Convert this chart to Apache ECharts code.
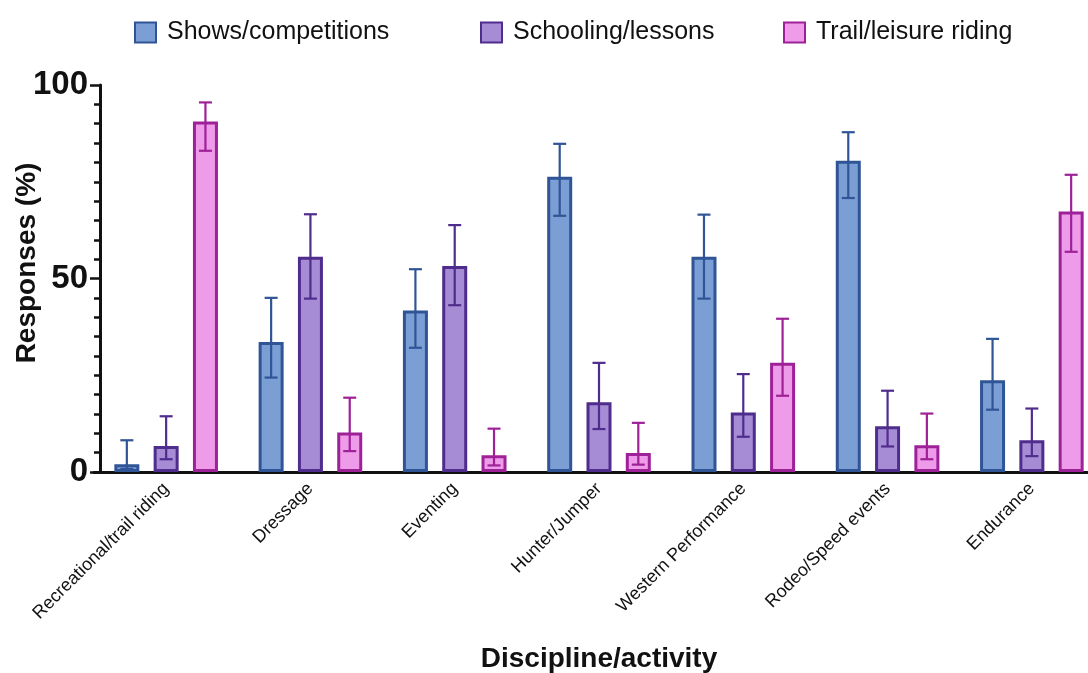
<!DOCTYPE html>
<html>
<head>
<meta charset="utf-8">
<script src="https://cdn.jsdelivr.net/npm/echarts@6/dist/echarts.min.js"></script>
<style>
  html, body { margin: 0; padding: 0; background: #ffffff; }
  #chart { width: 1088px; height: 673px; }
</style>
</head>
<body>
<div id="chart"></div>
<script>
// Disciplines on the x axis
const categories = [
  'Recreational/trail riding', 'Dressage', 'Eventing', 'Hunter/Jumper',
  'Western Performance', 'Rodeo/Speed events', 'Endurance'
];
const seriesNames = ['Shows/competitions', 'Schooling/lessons', 'Trail/leisure riding'];

// Percent of responses per discipline
const showsValues     = [2, 33.6, 41.7, 76.3, 55.6, 80.4, 23.7];
const schoolingValues = [6.7, 55.6, 53.2, 18.0, 15.4, 11.8, 8.2];
const trailValues     = [90.6, 10.2, 4.3, 4.9, 28.2, 6.9, 67.3];

// Confidence interval bounds (lower, upper)
const showsLow      = [0.8, 24.4, 32.1, 66.2, 44.8, 70.8, 16.1];
const showsHigh     = [8.2, 45.0, 52.4, 84.8, 66.5, 87.8, 34.4];
const schoolingLow  = [3.3, 44.8, 43.1, 11.1, 9.1, 6.6, 4.1];
const schoolingHigh = [14.4, 66.6, 63.8, 28.2, 25.3, 21.0, 16.4];
const trailLow      = [83.0, 5.4, 1.7, 1.9, 19.7, 3.3, 56.9];
const trailHigh     = [95.5, 19.2, 11.2, 12.7, 39.6, 15.1, 76.8];

const yTicks = [0, 50, 100];

const fills   = ['#7b9fd5', '#a68bd5', '#ee9cea'];
const strokes = ['#2f5596', '#4f2d8d', '#9e2198'];

const values = [showsValues, schoolingValues, trailValues];
const lows   = [showsLow, schoolingLow, trailLow];
const highs  = [showsHigh, schoolingHigh, trailHigh];

const BAR_W = 25;
const BAR_STEP = 39.3;

const barSeries = seriesNames.map((name, i) => ({
  name: name,
  type: 'bar',
  data: values[i],
  barWidth: BAR_W,
  barGap: ((BAR_STEP - BAR_W) / BAR_W * 100).toFixed(1) + '%',
  itemStyle: { color: fills[i], borderColor: strokes[i], borderWidth: 3 },
  z: 2
}));

const errorSeries = seriesNames.map((name, i) => ({
  name: name,
  type: 'custom',
  data: categories.map((c, k) => [k, lows[i][k], highs[i][k]]),
  z: 5,
  silent: true,
  renderItem: function (params, api) {
    const k = api.value(0);
    const lo = api.coord([k, api.value(1)]);
    const hi = api.coord([k, api.value(2)]);
    const x = lo[0] + (i - 1) * BAR_STEP;
    const cap = 6.5;
    const style = { stroke: strokes[i], lineWidth: 2.2, fill: null };
    return {
      type: 'group',
      children: [
        { type: 'line', shape: { x1: x, y1: lo[1], x2: x, y2: hi[1] }, style: style },
        { type: 'line', shape: { x1: x - cap, y1: hi[1], x2: x + cap, y2: hi[1] }, style: style },
        { type: 'line', shape: { x1: x - cap, y1: lo[1], x2: x + cap, y2: lo[1] }, style: style }
      ]
    };
  }
}));

function legendAt(name, left) {
  return {
    data: [name],
    left: left,
    top: 15,
    icon: 'rect',
    itemWidth: 21,
    itemHeight: 20,
    selectedMode: false,
    textStyle: {
      fontFamily: 'Liberation Sans, Arial, sans-serif',
      fontSize: 25,
      color: '#111',
      padding: [0, 0, 0, 6]
    }
  };
}

const chart = echarts.init(document.getElementById('chart'), null, { renderer: 'canvas' });
chart.setOption({
  animation: false,
  backgroundColor: '#ffffff',
  textStyle: { fontFamily: 'Liberation Sans, Arial, sans-serif' },
  legend: [
    legendAt(seriesNames[0], 129),
    legendAt(seriesNames[1], 475),
    legendAt(seriesNames[2], 778)
  ],
  // Vertical axis title
  graphic: [{
    type: 'text',
    x: 27,
    y: 263,
    rotation: Math.PI / 2,
    style: {
      text: 'Responses (%)',
      fontFamily: 'Liberation Sans, Arial, sans-serif',
      fontSize: 28,
      fontWeight: 'bold',
      fill: '#111',
      align: 'center',
      verticalAlign: 'middle'
    }
  }],
  grid: {
    left: 94, top: 85, width: 1010, height: 387,
    containLabel: false,
    outerBoundsMode: 'none'
  },
  xAxis: {
    type: 'category',
    data: categories,
    name: 'Discipline/activity',
    nameLocation: 'middle',
    nameGap: 173,
    nameTextStyle: { fontSize: 28, fontWeight: 'bold', color: '#111' },
    axisLine: { lineStyle: { color: '#111', width: 3 } },
    axisTick: { alignWithLabel: true, length: 10, lineStyle: { color: '#111', width: 2.5 } },
    axisLabel: {
      rotate: 45,
      interval: 0,
      margin: 14,
      fontSize: 18,
      color: '#111'
    }
  },
  yAxis: {
    type: 'value',
    min: yTicks[0],
    max: yTicks[yTicks.length - 1],
    interval: 50,
    offset: -6,
    axisLine: { show: true, lineStyle: { color: '#111', width: 3 } },
    axisTick: { show: true, length: 10, lineStyle: { color: '#111', width: 2.5 } },
    minorTick: { show: true, splitNumber: 10, length: 6, lineStyle: { color: '#111', width: 2.5 } },
    splitLine: { show: false },
    axisLabel: {
      margin: 12,
      fontSize: 33,
      fontWeight: 'bold',
      color: '#111',
      formatter: v => yTicks.indexOf(v) >= 0 ? String(v) : ''
    }
  },
  series: barSeries.concat(errorSeries)
});
</script>
</body>
</html>
